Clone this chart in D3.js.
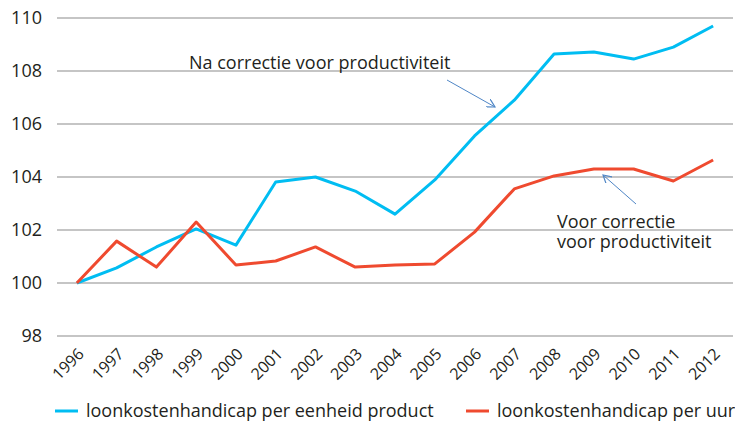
<!DOCTYPE html>
<html>
<head>
<meta charset="utf-8">
<script src="https://cdn.jsdelivr.net/npm/d3@7"></script>
<style>
  body { margin: 0; background: #fff; }
  text { font-family: "Open Sans", Lato, sans-serif; fill: #231f20; }
</style>
</head>
<body>
<svg id="chart" width="735" height="421"></svg>
<script>
// chart data
const years = ["1996","1997","1998","1999","2000","2001","2002","2003","2004","2005","2006","2007","2008","2009","2010","2011","2012"];
const perProduct = [100, 100.57, 101.36, 102.04, 101.43, 103.81, 104.0, 103.47, 102.6, 103.89, 105.55, 106.9, 108.64, 108.72, 108.45, 108.9, 109.7];
const perHour = [100, 101.58, 100.6, 102.3, 100.68, 100.83, 101.36, 100.6, 100.68, 100.72, 101.92, 103.55, 104.04, 104.3, 104.3, 103.85, 104.64];
const yTicks = [98, 100, 102, 104, 106, 108, 110];
const seriesNames = ["loonkostenhandicap per eenheid product", "loonkostenhandicap per uur"];

const blue = "#00bdf2", red = "#ef4a2f";

const svg = d3.select("#chart");
const plotLeft = 57, plotRight = 733, plotTop = 18, plotBottom = 336;

const x = d3.scaleBand().domain(years).range([plotLeft, plotRight]);
const y = d3.scaleLinear().domain([98, 110]).range([plotBottom, plotTop]);
const cx = d => x(d) + x.bandwidth() / 2;

// gridlines
svg.append("g").selectAll("line")
  .data(yTicks)
  .join("line")
  .attr("x1", plotLeft).attr("x2", plotRight)
  .attr("y1", d => y(d)).attr("y2", d => y(d))
  .attr("stroke", "#8c8c8c").attr("stroke-width", 1.2);

// y labels
svg.append("g").selectAll("text")
  .data(yTicks)
  .join("text")
  .attr("x", 42).attr("y", d => y(d))
  .attr("dy", "0.35em")
  .attr("text-anchor", "end")
  .style("font-size", "18px")
  .text(d => d);

// x labels
svg.append("g").selectAll("text")
  .data(years)
  .join("text")
  .attr("transform", d => `translate(${cx(d) + 4},${plotBottom + 15}) rotate(-45)`)
  .attr("text-anchor", "end")
  .attr("dy", "0.35em")
  .style("font-size", "16px")
  .text(d => d);

// lines
const line = d3.line().x((d, i) => cx(years[i])).y(d => y(d));
svg.append("path").datum(perProduct)
  .attr("d", line).attr("fill", "none")
  .attr("stroke", blue).attr("stroke-width", 3).attr("stroke-linejoin", "round");
svg.append("path").datum(perHour)
  .attr("d", line).attr("fill", "none")
  .attr("stroke", red).attr("stroke-width", 3).attr("stroke-linejoin", "round");

// annotations
const defs = svg.append("defs");
defs.append("marker")
  .attr("id", "arrow").attr("viewBox", "0 0 10 10")
  .attr("refX", 9).attr("refY", 5)
  .attr("markerWidth", 9).attr("markerHeight", 9)
  .attr("orient", "auto")
  .append("path").attr("d", "M0,0 L9,5 L0,10")
  .attr("fill", "none").attr("stroke", "#4f86c6").attr("stroke-width", 1.3);

svg.append("text")
  .attr("x", 189).attr("y", 69)
  .style("font-size", "18px")
  .text("Na correctie voor productiviteit");
svg.append("line")
  .attr("x1", 447).attr("y1", 80).attr("x2", 495).attr("y2", 107)
  .attr("stroke", "#4f86c6").attr("stroke-width", 1)
  .attr("marker-end", "url(#arrow)");

const note2 = svg.append("text")
  .attr("x", 557).attr("y", 228)
  .style("font-size", "18px");
note2.append("tspan").attr("x", 557).text("Voor correctie");
note2.append("tspan").attr("x", 557).attr("dy", 20).text("voor productiviteit");
svg.append("line")
  .attr("x1", 636).attr("y1", 204).attr("x2", 603).attr("y2", 175)
  .attr("stroke", "#4f86c6").attr("stroke-width", 1)
  .attr("marker-end", "url(#arrow)");

// legend
const legendX = [55, 466];
const legend = svg.append("g").selectAll("g")
  .data(seriesNames)
  .join("g")
  .attr("transform", (d, i) => `translate(${legendX[i]},411)`);
legend.append("line")
  .attr("x1", 0).attr("x2", 23)
  .attr("stroke", (d, i) => i === 0 ? blue : red).attr("stroke-width", 3);
legend.append("text")
  .attr("x", 31).attr("dy", "0.33em")
  .style("font-size", "18px")
  .text(d => d);
</script>
</body>
</html>
